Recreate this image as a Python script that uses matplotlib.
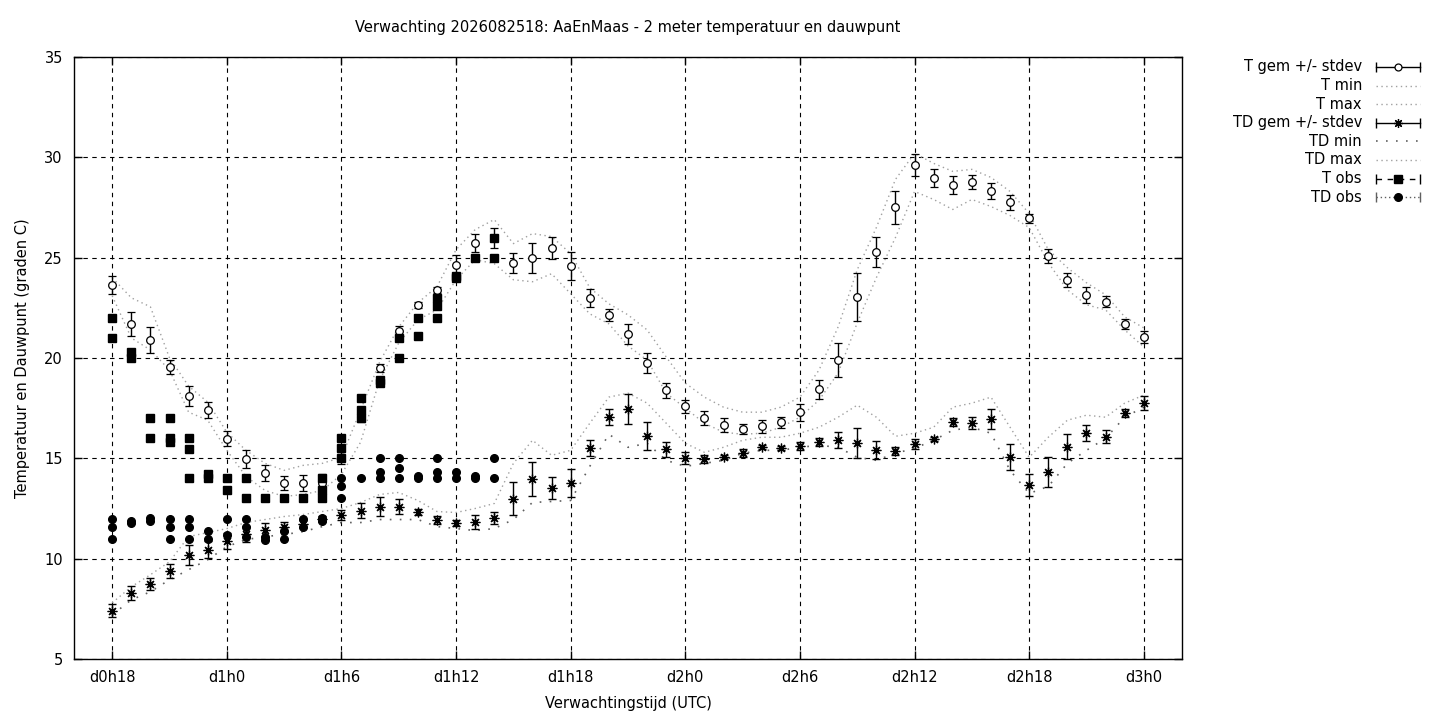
import matplotlib
matplotlib.use("Agg")
import matplotlib.pyplot as plt
from matplotlib.lines import Line2D
import numpy as np

# forecast hours since d0h0 (UTC)
hours = list(range(18, 73))

t_mean = [23.65, 21.7, 20.9, 19.55, 18.1, 17.4, 15.97, 14.97, 14.27, 13.77,
          13.77, 13.75, 15.0, 17.1, 19.5, 21.35, 22.64, 23.4, 24.63, 25.73,
          26.0, 24.73, 24.98, 25.48, 24.58, 22.99, 22.14, 21.2, 19.75, 18.4,
          17.6, 17.0, 16.66, 16.46, 16.6, 16.8, 17.3, 18.45, 19.9, 23.04,
          25.28, 27.5, 29.6, 28.97, 28.62, 28.77, 28.32, 27.77, 26.97, 25.08,
          23.89, 23.14, 22.8, 21.7, 21.05]
t_sd = [0.45, 0.6, 0.65, 0.37, 0.5, 0.4, 0.37, 0.45, 0.42, 0.35,
        0.4, 0.45, 0.3, 0.3, 0.2, 0.25, 0.15, 0.15, 0.5, 0.45,
        0.5, 0.5, 0.75, 0.57, 0.68, 0.45, 0.3, 0.5, 0.5, 0.37,
        0.33, 0.35, 0.35, 0.25, 0.32, 0.28, 0.42, 0.47, 0.85, 1.2,
        0.77, 0.83, 0.55, 0.47, 0.47, 0.37, 0.4, 0.37, 0.22, 0.37,
        0.37, 0.4, 0.27, 0.25, 0.3]
t_max = [24.0, 23.0, 22.55, 20.0, 18.6, 17.8, 16.3, 15.4, 14.75, 14.4,
         14.65, 14.75, 15.05, 17.4, 19.8, 21.55, 22.75, 23.55, 25.4, 26.4,
         26.9, 25.7, 26.2, 26.05, 25.2, 23.5, 22.7, 22.15, 21.4, 20.05,
         18.75, 18.05, 17.55, 17.3, 17.3, 17.55, 18.05, 19.4, 21.55, 24.4,
         26.5, 28.9, 30.2, 29.7, 29.3, 29.4, 29.0, 28.3, 27.2, 25.4,
         24.5, 23.75, 23.15, 22.05, 21.5]
t_min = [23.1, 21.0, 20.4, 19.4, 17.3, 16.9, 15.4, 14.1, 13.4, 13.1,
         13.2, 13.4, 14.2, 15.8, 18.9, 20.75, 21.9, 22.4, 23.9, 24.9,
         24.7, 23.9, 23.8, 24.2, 23.2, 22.2, 21.7, 20.6, 19.9, 18.25,
         17.5, 16.75, 16.3, 16.2, 16.25, 16.55, 17.05, 17.9, 19.25, 21.75,
         24.0, 26.0, 28.3, 27.9, 27.4, 27.9, 27.55, 27.1, 26.5, 24.75,
         23.4, 22.65, 22.4, 21.4, 20.55]

td_mean = [7.4, 8.3, 8.74, 9.4, 10.2, 10.44, 10.88, 11.23, 11.43, 11.6,
           11.75, 12.0, 12.2, 12.38, 12.58, 12.58, 12.33, 11.93, 11.78, 11.83,
           12.03, 12.98, 13.97, 13.52, 13.77, 15.5, 17.06, 17.46, 16.12, 15.45,
           15.02, 14.97, 15.07, 15.27, 15.57, 15.52, 15.62, 15.82, 15.92, 15.77,
           15.42, 15.37, 15.72, 15.97, 16.82, 16.77, 16.97, 15.07, 13.67, 14.3,
           15.57, 16.27, 16.07, 17.26, 17.76]
td_sd = [0.32, 0.35, 0.3, 0.35, 0.5, 0.42, 0.4, 0.42, 0.35, 0.25,
         0.2, 0.15, 0.25, 0.37, 0.47, 0.37, 0.15, 0.2, 0.15, 0.37,
         0.32, 0.82, 0.87, 0.57, 0.7, 0.4, 0.4, 0.75, 0.68, 0.37,
         0.3, 0.22, 0.12, 0.2, 0.1, 0.1, 0.2, 0.2, 0.4, 0.75,
         0.45, 0.2, 0.25, 0.1, 0.2, 0.3, 0.5, 0.65, 0.55, 0.75,
         0.62, 0.4, 0.32, 0.2, 0.35]
td_max = [7.8, 8.6, 9.2, 9.85, 11.1, 11.3, 11.5, 11.8, 11.95, 12.1,
          12.2, 12.35, 12.5, 12.8, 13.2, 13.3, 12.9, 12.35, 12.3, 12.5,
          12.75, 14.75, 15.9, 15.15, 15.4, 16.75, 18.05, 18.25, 17.75, 16.75,
          15.75, 15.3, 15.55, 15.9, 16.05, 16.05, 16.25, 16.55, 17.05, 17.65,
          17.05, 16.1, 16.25, 16.55, 17.55, 17.75, 18.05, 16.55, 15.05, 16.05,
          16.9, 17.15, 17.05, 17.75, 18.15]
td_min = [7.2, 7.95, 8.35, 8.95, 9.45, 9.95, 10.6, 10.95, 11.1, 11.2,
          11.35, 11.6, 11.8, 11.8, 11.95, 11.95, 11.95, 11.6, 11.5, 11.4,
          11.5, 11.95, 12.8, 12.85, 12.9, 14.6, 16.2, 15.55, 15.75, 14.9,
          14.6, 14.75, 14.9, 15.25, 15.4, 15.4, 15.55, 15.65, 15.55, 15.05,
          14.9, 15.25, 15.5, 15.9, 16.4, 16.55, 16.25, 14.4, 13.25, 13.6,
          14.75, 15.4, 16.0, 17.05, 17.55]

# observations (several stations per hour)
t_obs_hour = [18, 18, 19, 19, 20, 20, 21, 21, 21, 22, 22, 22, 23, 23, 24, 24,
              25, 25, 26, 27, 28, 29, 29, 29, 30, 30, 30, 31, 31, 31, 32, 32,
              33, 33, 34, 34, 35, 35, 35, 36, 36, 37, 38, 38]
t_obs_val = [22, 21, 20.3, 20.0, 17, 16, 17, 16, 15.8, 16, 15.45, 14, 14.2, 14,
             14, 13.4, 14, 13, 13, 13, 13, 14, 13.4, 13, 16, 15.5, 15, 18, 17.4,
             17, 18.9, 18.75, 21, 20, 22, 21.1, 23, 22.6, 22, 24.1, 24, 25, 26, 25]
td_obs_hour = [18, 18, 18, 19, 19, 20, 20, 21, 21, 21, 22, 22, 22, 23, 23, 24, 24,
               25, 25, 25, 26, 26, 27, 27, 28, 28, 29, 29, 30, 30, 30, 31,
               32, 32, 32, 33, 33, 33, 34, 34, 35, 35, 35, 36, 36, 37, 37, 38, 38]
td_obs_val = [12, 11.6, 11, 11.9, 11.8, 12.05, 11.9, 12, 11.6, 11, 12, 11.6, 11,
              11.4, 11, 12, 11.2, 12, 11.6, 11.1, 11.1, 10.95, 11.4, 11, 12, 11.6,
              12.05, 11.9, 14, 13.6, 13, 14, 15, 14.3, 14, 15, 14.5, 14, 14.1, 14,
              15, 14.3, 14, 14.3, 14, 14.1, 14, 15, 14]

tick_hours = [18, 24, 30, 36, 42, 48, 54, 60, 66, 72]
tick_labels = ["d0h18", "d1h0", "d1h6", "d1h12", "d1h18",
               "d2h0", "d2h6", "d2h12", "d2h18", "d3h0"]

plt.rcParams["font.family"] = ["DejaVu Sans"]
FS = 10.5

fig = plt.figure(figsize=(14.4, 7.2), dpi=100)
ax = fig.add_axes([74 / 1440, 1 - 659 / 720, (1182 - 74) / 1440, (659 - 57) / 720])

grey = "#a0a0a0"
ax.errorbar(hours, t_mean, yerr=t_sd, fmt="o", mfc="white", mec="black", mew=0.9,
            ms=5.5, ecolor="black", elinewidth=1, capsize=3, capthick=1, zorder=3)
ax.plot(hours, t_min, ls=(0, (1, 2.5)), color=grey, lw=1, zorder=2)
ax.plot(hours, t_max, ls=(0, (1, 2.5)), color=grey, lw=1, zorder=2)
ax.errorbar(hours, td_mean, yerr=td_sd, fmt="none", ecolor="black", elinewidth=1,
            capsize=3, capthick=1, zorder=3)
ax.plot(hours, td_mean, ls="none", marker=(8, 2, 0), ms=7, color="black", mew=0.9, zorder=3)
ax.plot(hours, td_min, ls=(0, (1, 5)), color="#606060", lw=1.2, zorder=2)
ax.plot(hours, td_max, ls=(0, (1, 2.5)), color=grey, lw=1, zorder=2)
ax.plot(t_obs_hour, t_obs_val, ls="none", marker="s", ms=5.5, color="black", zorder=4)
ax.plot(td_obs_hour, td_obs_val, ls="none", marker="o", ms=5.5, color="black", zorder=4)

ax.set_xlim(16, 74)
ax.set_ylim(5, 35)
ax.set_xticks(tick_hours)
ax.set_xticklabels(tick_labels)
ax.set_yticks(range(5, 36, 5))
ax.tick_params(direction="in", length=6, width=1, top=True, right=True,
               labelsize=FS, pad=8)
ax.grid(True, ls=(0, (4, 4)), color="black", lw=0.8)
for s in ax.spines.values():
    s.set_linewidth(1)

ax.set_xlabel("Verwachtingstijd (UTC)", fontsize=FS, labelpad=8)
ax.set_ylabel("Temperatuur en Dauwpunt (graden C)", fontsize=FS, labelpad=10)
ax.set_title("Verwachting 2026082518: AaEnMaas - 2 meter temperatuur en dauwpunt",
             fontsize=FS, pad=18)

# legend, drawn gnuplot-style (label right-aligned, sample to its right)
legend_rows = ["T gem +/- stdev", "T min", "T max", "TD gem +/- stdev",
               "TD min", "TD max", "T obs", "TD obs"]
x_txt, x0, x1 = 1362 / 1440, 1376 / 1440, 1420 / 1440
for i, lab in enumerate(legend_rows):
    y = 1 - (67 + i * 18.6) / 720
    fig.text(x_txt, y, lab, ha="right", va="center", fontsize=FS)
    xm = (x0 + x1) / 2
    if lab in ("T gem +/- stdev", "TD gem +/- stdev"):
        fig.add_artist(Line2D([x0, x1], [y, y], color="black", lw=1,
                              marker="|", ms=7, mew=1))
        if lab.startswith("T "):
            fig.add_artist(Line2D([xm], [y], marker="o", ms=5, mfc="white",
                                  mec="black", mew=0.9))
        else:
            fig.add_artist(Line2D([xm], [y], marker=(8, 2, 0), ms=6.5,
                                  color="black", mew=0.9))
    elif lab == "TD min":
        fig.add_artist(Line2D([x0, x1], [y, y], color="#606060", lw=1.2, ls=(0, (1, 5))))
    elif lab in ("T min", "T max", "TD max"):
        fig.add_artist(Line2D([x0, x1], [y, y], color=grey, lw=1, ls=(0, (1, 2.5))))
    elif lab == "T obs":
        fig.add_artist(Line2D([x0, x1], [y, y], color="black", lw=1, ls=(0, (4, 4)),
                              marker="|", ms=7, mew=1))
        fig.add_artist(Line2D([xm], [y], marker="s", ms=5.5, color="black"))
    else:
        fig.add_artist(Line2D([x0, x1], [y, y], color="#606060", lw=1, ls=(0, (1, 2)),
                              marker="|", ms=7, mew=1))
        fig.add_artist(Line2D([xm], [y], marker="o", ms=5.5, color="black"))

fig.savefig("out.png", dpi=100)
